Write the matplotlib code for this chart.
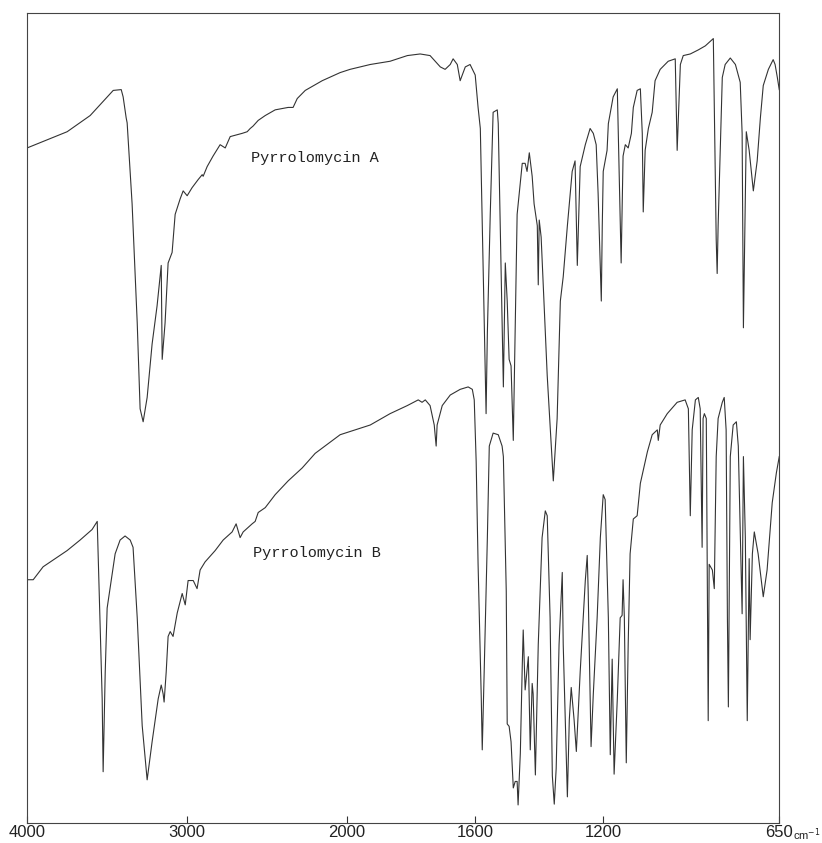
import numpy as np
import matplotlib
matplotlib.use("Agg")
import matplotlib.pyplot as plt

# IR spectra: wavenumber (cm-1) and transmittance (%)
wn_a = [4000, 3750, 3606, 3462, 3412, 3400, 3381, 3375, 3344, 3312, 3294, 3275, 3250, 3219,
        3188, 3162, 3156, 3138, 3119, 3094, 3075, 3044, 3025, 3000, 2969, 2931, 2906, 2900,
        2875, 2838, 2794, 2762, 2731, 2656, 2625, 2606, 2588, 2556, 2512, 2450, 2369, 2338,
        2312, 2262, 2156, 2044, 1991, 1928, 1866, 1812, 1772, 1741, 1709, 1694, 1678, 1669,
        1656, 1647, 1631, 1616, 1600, 1591, 1584, 1569, 1566, 1562, 1553, 1544, 1531, 1528,
        1516, 1512, 1506, 1500, 1494, 1488, 1481, 1469, 1453, 1444, 1438, 1431, 1422, 1416,
        1406, 1403, 1400, 1394, 1375, 1356, 1344, 1334, 1325, 1312, 1297, 1288, 1281, 1272,
        1256, 1241, 1231, 1222, 1216, 1206, 1203, 1200, 1188, 1184, 1169, 1156, 1153, 1144,
        1138, 1131, 1122, 1112, 1106, 1094, 1084, 1078, 1075, 1069, 1059, 1047, 1038, 1022,
        997, 975, 969, 959, 950, 928, 903, 881, 856, 847, 844, 841, 828, 819, 803, 787, 772,
        766, 762, 753, 744, 731, 719, 709, 700, 684, 669, 663, 656, 650]
t_a = [83.3, 85.3, 87.3, 90.4, 90.5, 89.6, 87.0, 86.4, 76.4, 61.7, 51.1, 49.5, 52.5, 59.1,
       63.8, 68.8, 57.2, 61.7, 69.1, 70.4, 75.1, 77.0, 78.0, 77.4, 78.4, 79.4, 80.0, 79.8,
       81.0, 82.3, 83.7, 83.3, 84.7, 85.1, 85.3, 85.7, 86.0, 86.7, 87.3, 88.0, 88.3, 88.3,
       89.4, 90.4, 91.6, 92.6, 93.0, 93.6, 94.0, 94.7, 94.9, 94.7, 93.3, 93.0, 93.6, 94.3,
       93.6, 91.6, 93.3, 93.6, 92.3, 88.3, 85.7, 55.8, 50.5, 60.5, 75.1, 87.7, 88.0, 86.3,
       61.7, 53.8, 69.1, 64.4, 57.2, 56.4, 47.2, 75.1, 81.4, 81.4, 80.4, 82.7, 79.8, 76.4,
       73.7, 66.4, 74.4, 72.3, 55.2, 42.2, 49.9, 64.4, 67.4, 73.7, 80.4, 81.7, 68.8, 81.0,
       83.7, 85.7, 85.1, 83.7, 77.7, 64.4, 73.7, 80.4, 83.0, 86.3, 89.6, 90.6, 85.1, 69.1,
       82.3, 83.7, 83.3, 85.1, 88.3, 90.4, 90.6, 85.1, 75.4, 83.0, 85.7, 87.7, 91.6, 93.0,
       94.0, 94.3, 83.0, 93.6, 94.7, 94.9, 95.4, 95.9, 96.8, 72.0, 67.8, 73.7, 92.0, 93.6,
       94.4, 93.6, 91.4, 85.1, 61.1, 85.3, 83.0, 78.0, 81.7, 87.0, 91.0, 93.0, 94.2, 93.6,
       92.0, 90.5]

wn_b = [4000, 3962, 3900, 3750, 3669, 3594, 3562, 3550, 3531, 3525, 3512, 3500, 3469, 3450,
        3419, 3388, 3356, 3338, 3312, 3281, 3250, 3219, 3181, 3162, 3150, 3144, 3131, 3119,
        3106, 3088, 3062, 3031, 3012, 2994, 2962, 2938, 2919, 2888, 2825, 2775, 2719, 2694,
        2669, 2650, 2594, 2575, 2556, 2512, 2450, 2369, 2281, 2200, 2119, 2044, 1991, 1928,
        1866, 1812, 1778, 1766, 1756, 1741, 1728, 1722, 1719, 1703, 1678, 1647, 1622, 1609,
        1603, 1597, 1591, 1581, 1578, 1572, 1562, 1556, 1544, 1528, 1516, 1512, 1503, 1500,
        1494, 1488, 1481, 1475, 1469, 1466, 1459, 1453, 1450, 1444, 1434, 1428, 1422, 1419,
        1412, 1403, 1391, 1381, 1375, 1366, 1359, 1353, 1347, 1338, 1328, 1325, 1312, 1306,
        1300, 1291, 1284, 1272, 1256, 1250, 1247, 1238, 1231, 1219, 1209, 1200, 1194, 1184,
        1178, 1172, 1166, 1156, 1147, 1141, 1138, 1134, 1128, 1122, 1116, 1106, 1094, 1084,
        1062, 1047, 1031, 1028, 1022, 1000, 969, 944, 934, 928, 922, 912, 903, 897, 891, 888,
        884, 878, 875, 872, 869, 859, 853, 847, 841, 828, 822, 816, 812, 809, 803, 794, 784,
        778, 766, 762, 756, 750, 744, 741, 734, 728, 716, 700, 688, 672, 659, 650]
t_b = [30.0, 30.0, 31.6, 33.6, 34.9, 36.2, 37.2, 28.6, 15.3, 6.3, 18.6, 26.5, 30.6, 33.2,
       34.9, 35.4, 34.9, 34.0, 25.3, 12.0, 5.3, 10.0, 15.3, 17.0, 15.9, 14.9, 18.6, 23.0,
       23.6, 23.0, 25.9, 28.3, 26.9, 29.9, 29.9, 28.9, 31.2, 32.2, 33.6, 34.9, 35.9, 36.9,
       35.2, 35.9, 36.9, 37.2, 38.3, 38.9, 40.5, 42.2, 43.8, 45.6, 46.8, 47.9, 48.3, 49.1,
       50.5, 51.5, 52.2, 51.9, 52.2, 51.5, 49.1, 46.5, 49.1, 51.5, 52.8, 53.5, 53.8, 53.5,
       52.2, 44.6, 31.9, 15.3, 9.0, 18.6, 35.2, 46.5, 48.1, 47.9, 46.5, 45.2, 28.6, 12.2,
       11.9, 10.0, 4.3, 5.1, 5.1, 2.2, 8.6, 19.3, 23.8, 16.4, 20.5, 9.0, 17.2, 15.9,
       5.9, 22.0, 35.2, 38.5, 37.9, 25.3, 5.8, 2.3, 6.7, 22.0, 30.9, 22.0, 3.2, 12.7,
       16.7, 12.7, 8.8, 18.6, 29.9, 33.0, 28.6, 9.4, 15.9, 25.3, 35.2, 40.5, 39.9, 25.3,
       8.4, 20.2, 6.0, 15.3, 25.3, 25.6, 30.0, 25.3, 7.4, 22.0, 33.2, 37.5, 37.9, 41.9,
       45.8, 47.9, 48.5, 47.2, 49.1, 50.5, 51.9, 52.2, 51.1, 37.9, 48.5, 52.2, 52.5, 51.1, 34.0, 49.9,
       50.5, 49.9, 31.9, 12.6, 31.9, 31.2, 28.9, 45.2, 49.9, 51.9, 52.5, 48.5, 25.3, 14.3, 45.2, 49.1, 49.5,
       46.5, 25.8, 45.2, 35.2, 12.6, 32.6, 22.6, 33.2, 35.9, 33.2, 27.9, 31.2, 39.5, 43.2, 45.2]

tick_values = [4000, 3000, 2000, 1600, 1200, 650]
tick_labels = ["4000", "3000", "2000", "1600", "1200", "650"]


# chart paper: scale doubles below 2000 cm-1
def fwd(w):
    w = np.asarray(w, dtype=float)
    return np.where(w >= 2000, w, 2 * w - 2000)


def inv(p):
    p = np.asarray(p, dtype=float)
    return np.where(p >= 2000, p, (p + 2000) / 2)


fig = plt.figure(figsize=(8.22, 8.43), dpi=100)
ax = fig.add_axes([0.033, 0.024, 0.915, 0.961])
ax.set_xscale("function", functions=(fwd, inv))

ink = "#333333"
ax.plot(wn_a, t_a, color=ink, lw=0.8)
ax.plot(wn_b, t_b, color=ink, lw=0.8)

ax.set_xlim(4000, 650)
ax.set_ylim(0, 100)
ax.set_yticks([])
ax.set_xticks(tick_values)
ax.set_xticklabels(tick_labels, family="Liberation Sans", fontsize=12, color="#222222")
ax.xaxis.set_minor_locator(matplotlib.ticker.NullLocator())
ax.tick_params(axis="x", direction="in", length=5, width=0.8, pad=1.5, color=ink)
for s in ax.spines.values():
    s.set_linewidth(0.8)
    s.set_color("#444444")

ax.annotate("cm$^{-1}$", xy=(1, 0), xycoords="axes fraction", xytext=(10, -12),
            textcoords="offset points", ha="left", va="baseline",
            family="Liberation Sans", fontsize=8, color="#222222", annotation_clip=False)

ax.text(2600, 82.1, "Pyrrolomycin A", family="Liberation Mono", fontsize=11,
        color="#222222", ha="left", va="center")
ax.text(2588, 33.3, "Pyrrolomycin B", family="Liberation Mono", fontsize=11,
        color="#222222", ha="left", va="center")

fig.savefig("out.png", dpi=100)
